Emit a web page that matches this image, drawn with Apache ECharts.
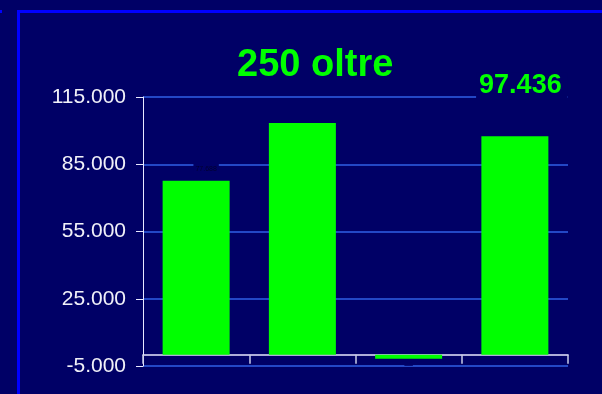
<!DOCTYPE html>
<html>
<head>
<meta charset="utf-8">
<script src="https://cdn.jsdelivr.net/npm/echarts@6/dist/echarts.min.js"></script>
<style>
  html, body { margin: 0; padding: 0; background: #000066; }
  #chart { width: 602px; height: 394px; }
</style>
</head>
<body>
<div id="chart"></div>
<script>
// Chart content
const chartTitle = '250 oltre';
const categories = ['1', '2', '3', '4'];
const values = [77688, 103400, -1800, 97436];
const tickLabels = ['-5.000', '25.000', '55.000', '85.000', '115.000'];

const NAVY = '#000066';
const GREEN = '#00ff00';
const FONT = 'Arial, "Liberation Sans", sans-serif';

// Italian-style thousands separator
function fmt(v) {
  const s = Math.abs(Math.round(v)).toString().replace(/\B(?=(\d{3})+(?!\d))/g, '.');
  return (v < 0 ? '-' : '') + s;
}

// Per-bar label styles
const labelStyles = [
  { show: true, position: 'top', distance: 7, offset: [10, 0],
    color: '#000030', fontSize: 7, fontFamily: FONT,
    backgroundColor: NAVY, padding: [4, 2, 1, 2] },
  { show: false },
  { show: true, position: 'bottom', distance: 4, color: NAVY, fontSize: 3,
    backgroundColor: NAVY, padding: [0, 0] },
  { show: true, position: 'top', distance: 37, offset: [7, 0],
    color: GREEN, fontSize: 27, fontWeight: 'bold', fontFamily: FONT,
    backgroundColor: NAVY, padding: [0, 6, 0, 3] }
];

const chart = echarts.init(document.getElementById('chart'), null, { renderer: 'canvas' });

chart.setOption({
  backgroundColor: NAVY,
  animation: false,
  title: {
    text: chartTitle,
    left: 232,
    top: 42,
    textStyle: { color: GREEN, fontSize: 38, fontWeight: 'bold', fontFamily: FONT }
  },
  graphic: [
    { type: 'rect', shape: { x: 18.5, y: 11.5, width: 800, height: 600 },
      style: { fill: 'none', stroke: '#0000ff', lineWidth: 3 }, silent: true },
    { type: 'rect', shape: { x: 0, y: 10, width: 2, height: 3 },
      style: { fill: '#0000ff' }, silent: true }
  ],
  grid: { left: 143, right: 34, top: 97, bottom: 28, containLabel: false },
  xAxis: {
    type: 'category',
    data: categories,
    boundaryGap: true,
    axisLine: { onZero: true, lineStyle: { color: '#e8e8ff', width: 1.5 } },
    axisTick: { show: true, length: 9, alignWithLabel: false, lineStyle: { color: '#c8cce8', width: 1.5 } },
    axisLabel: { show: false },
    splitLine: { show: false }
  },
  yAxis: {
    type: 'value',
    min: -5000,
    max: 115000,
    interval: 30000,
    axisLine: { show: true, lineStyle: { color: '#e8e8ff', width: 1 } },
    axisTick: { show: true, length: 7, lineStyle: { color: '#e8e8ff' } },
    axisLabel: {
      color: '#f0f0f8', fontSize: 21, margin: 17, fontFamily: FONT,
      formatter: function (v) {
        const i = Math.round((v + 5000) / 30000);
        return tickLabels[i] !== undefined ? tickLabels[i] : fmt(v);
      }
    },
    splitLine: { show: true, lineStyle: { color: '#2f5fe6', width: 1.5 } }
  },
  series: [{
    type: 'bar',
    barWidth: 67,
    itemStyle: { color: GREEN },
    data: values.map(function (v, i) {
      return { value: v, label: Object.assign({ formatter: fmt(v) }, labelStyles[i]) };
    })
  }]
});
</script>
</body>
</html>
